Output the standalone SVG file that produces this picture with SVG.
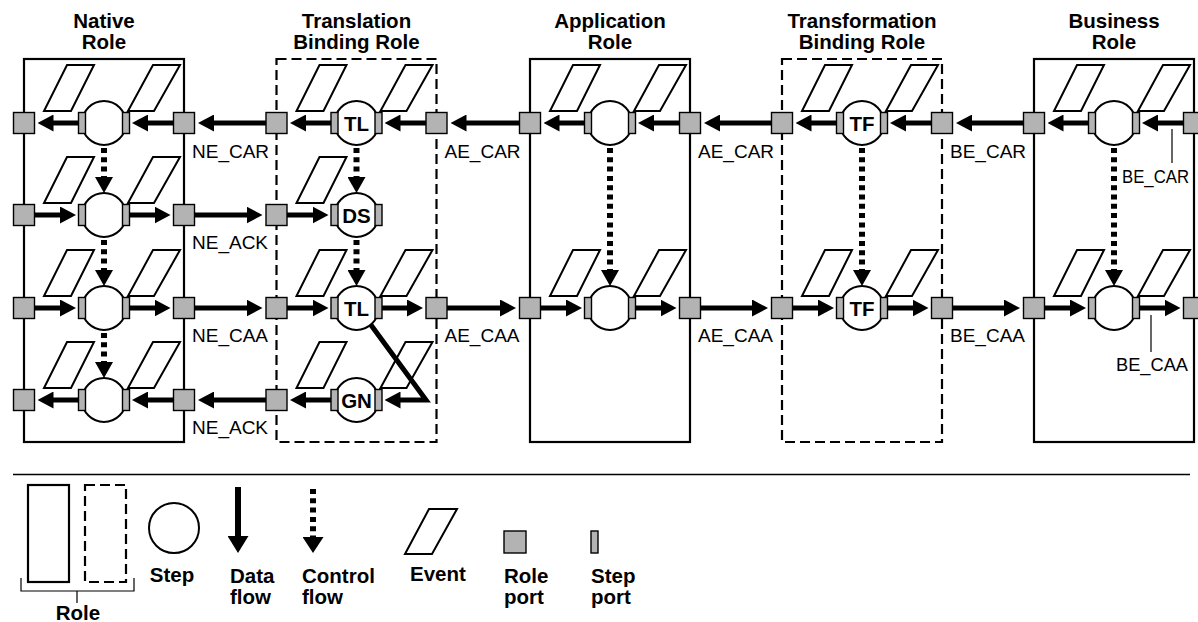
<svg xmlns="http://www.w3.org/2000/svg" width="1198" height="622" viewBox="0 0 1198 622">
<style>
.role{fill:none;stroke:#000;stroke-width:2.2}
.brole{fill:none;stroke:#000;stroke-width:2.2;stroke-dasharray:10 5}
.step{fill:#fff;stroke:#000;stroke-width:2}
.ev{fill:#fff;stroke:#000;stroke-width:2}
.rp{fill:#b3b3b3;stroke:#000;stroke-width:1.4}
.sp{fill:#b3b3b3;stroke:#000;stroke-width:1.4}
.df{fill:none;stroke:#000;stroke-width:5;marker-end:url(#ah)}
.cf{fill:none;stroke:#000;stroke-width:6;stroke-dasharray:5 4.3;marker-end:url(#ch)}
.thin{fill:none;stroke:#000;stroke-width:1.2}
text{font-family:"Liberation Sans",Arial,Helvetica,sans-serif;fill:#000}
.t{font-size:20.5px;font-weight:bold;text-anchor:middle}
.tb{font-size:20.5px;font-weight:bold}
.l{font-size:19px}
</style>
<defs>
<marker id="ah" viewBox="0 0 16 17" refX="8" refY="8.5" markerWidth="16" markerHeight="17" orient="auto" markerUnits="userSpaceOnUse"><path d="M0,0 L16,8.5 L0,17 z" fill="#000"/></marker>
<marker id="ch" viewBox="0 0 16 18" refX="0" refY="9" markerWidth="16" markerHeight="18" orient="auto" markerUnits="userSpaceOnUse"><path d="M0,0 L16,9 L0,18 z" fill="#000"/></marker>
<marker id="ahL" viewBox="0 0 17 21" refX="9" refY="10.5" markerWidth="17" markerHeight="21" orient="auto" markerUnits="userSpaceOnUse"><path d="M0,0 L17,10.5 L0,21 z" fill="#000"/></marker>
<marker id="chL" viewBox="0 0 16 21" refX="0" refY="10.5" markerWidth="16" markerHeight="21" orient="auto" markerUnits="userSpaceOnUse"><path d="M0,0 L16,10.5 L0,21 z" fill="#000"/></marker>
<polygon id="evL" class="ev" points="-60,-12 -33,-12 -10,-58 -37,-58"/>
<polygon id="evR" class="ev" points="24,-12 50,-12 76,-58 49,-58"/>
<g id="stepShape"><circle r="22" class="step"/><rect x="-25.5" y="-10.5" width="7" height="21" class="sp"/><rect x="18.5" y="-10.5" width="7" height="21" class="sp"/></g>
<rect id="rport" x="-10.5" y="-10.5" width="21" height="21" class="rp"/>
</defs>

<!-- Native Role -->
<g id="native-role">
<rect class="role" x="24" y="59" width="160" height="383"/>
<text class="t" x="104" y="28">Native</text>
<text class="t" x="104" y="49">Role</text>
<g id="native-step1"><use href="#evL" x="104" y="123"/><use href="#evR" x="104" y="123"/><use href="#stepShape" x="104" y="123"/></g>
<g id="native-step2"><use href="#evL" x="104" y="215"/><use href="#evR" x="104" y="215"/><use href="#stepShape" x="104" y="215"/></g>
<g id="native-step3"><use href="#evL" x="104" y="308"/><use href="#evR" x="104" y="308"/><use href="#stepShape" x="104" y="308"/></g>
<g id="native-step4"><use href="#evL" x="104" y="400"/><use href="#evR" x="104" y="400"/><use href="#stepShape" x="104" y="400"/></g>
<use href="#rport" x="24" y="123"/><use href="#rport" x="184" y="123"/>
<use href="#rport" x="24" y="215"/><use href="#rport" x="184" y="215"/>
<use href="#rport" x="24" y="308"/><use href="#rport" x="184" y="308"/>
<use href="#rport" x="24" y="400"/><use href="#rport" x="184" y="400"/>
</g>

<!-- Translation Binding Role -->
<g id="translation-role">
<rect class="brole" x="276.5" y="59" width="160" height="383"/>
<text class="t" x="356.5" y="28">Translation</text>
<text class="t" x="356.5" y="49">Binding Role</text>
<g id="tl-step1"><use href="#evL" x="356.5" y="123"/><use href="#evR" x="356.5" y="123"/><use href="#stepShape" x="356.5" y="123"/><text class="t" x="356.5" y="131">TL</text></g>
<g id="ds-step"><use href="#evL" x="356.5" y="215"/><use href="#stepShape" x="356.5" y="215"/><text class="t" x="356.5" y="223">DS</text></g>
<g id="tl-step2"><use href="#evL" x="356.5" y="308"/><use href="#evR" x="356.5" y="308"/><use href="#stepShape" x="356.5" y="308"/><text class="t" x="356.5" y="316">TL</text></g>
<g id="gn-step"><use href="#evL" x="356.5" y="400"/><use href="#evR" x="356.5" y="400"/><use href="#stepShape" x="356.5" y="400"/><text class="t" x="356.5" y="408">GN</text></g>
<use href="#rport" x="276.5" y="123"/><use href="#rport" x="436.5" y="123"/>
<use href="#rport" x="276.5" y="215"/>
<use href="#rport" x="276.5" y="308"/><use href="#rport" x="436.5" y="308"/>
<use href="#rport" x="276.5" y="400"/>
</g>

<!-- Application Role -->
<g id="application-role">
<rect class="role" x="530" y="59" width="160" height="383"/>
<text class="t" x="610" y="28">Application</text>
<text class="t" x="610" y="49">Role</text>
<g id="app-step1"><use href="#evL" x="610" y="123"/><use href="#evR" x="610" y="123"/><use href="#stepShape" x="610" y="123"/></g>
<g id="app-step2"><use href="#evL" x="610" y="308"/><use href="#evR" x="610" y="308"/><use href="#stepShape" x="610" y="308"/></g>
<use href="#rport" x="530" y="123"/><use href="#rport" x="690" y="123"/>
<use href="#rport" x="530" y="308"/><use href="#rport" x="690" y="308"/>
</g>

<!-- Transformation Binding Role -->
<g id="transformation-role">
<rect class="brole" x="782" y="59" width="160" height="383"/>
<text class="t" x="862" y="28">Transformation</text>
<text class="t" x="862" y="49">Binding Role</text>
<g id="tf-step1"><use href="#evL" x="862" y="123"/><use href="#evR" x="862" y="123"/><use href="#stepShape" x="862" y="123"/><text class="t" x="862" y="131">TF</text></g>
<g id="tf-step2"><use href="#evL" x="862" y="308"/><use href="#evR" x="862" y="308"/><use href="#stepShape" x="862" y="308"/><text class="t" x="862" y="316">TF</text></g>
<use href="#rport" x="782" y="123"/><use href="#rport" x="942" y="123"/>
<use href="#rport" x="782" y="308"/><use href="#rport" x="942" y="308"/>
</g>

<!-- Business Role -->
<g id="business-role">
<rect class="role" x="1034" y="59" width="160" height="383"/>
<text class="t" x="1114" y="28">Business</text>
<text class="t" x="1114" y="49">Role</text>
<g id="bus-step1"><use href="#evL" x="1114" y="123"/><use href="#evR" x="1114" y="123"/><use href="#stepShape" x="1114" y="123"/></g>
<g id="bus-step2"><use href="#evL" x="1114" y="308"/><use href="#evR" x="1114" y="308"/><use href="#stepShape" x="1114" y="308"/></g>
<use href="#rport" x="1034" y="123"/><use href="#rport" x="1194" y="123"/>
<use href="#rport" x="1034" y="308"/><use href="#rport" x="1194" y="308"/>
</g>

<!-- Connectors -->
<g id="connectors">
<path class="df" d="M173.5 123 H140"/><path class="df" d="M78.5 123 H45.5"/>
<path class="df" d="M34.5 215 H68"/><path class="df" d="M129.5 215 H162.5"/>
<path class="df" d="M34.5 308 H68"/><path class="df" d="M129.5 308 H162.5"/>
<path class="df" d="M173.5 400 H140"/><path class="df" d="M78.5 400 H45.5"/>
<path class="df" d="M266 123 H206"/>
<path class="df" d="M194.5 215 H254.5"/>
<path class="df" d="M194.5 308 H254.5"/>
<path class="df" d="M266 400 H206"/>
<path class="df" d="M426 123 H392.5"/><path class="df" d="M331 123 H298"/>
<path class="df" d="M287 215 H320.5"/>
<path class="df" d="M287 308 H320.5"/><path class="df" d="M382 308 H415"/>
<path class="df" d="M331 400 H298"/>
<path class="df" style="stroke-linejoin:miter;stroke-miterlimit:10" d="M371 325 L426 400 H392.5"/>
<path class="df" d="M519.5 123 H458.5"/>
<path class="df" d="M447 308 H508"/>
<path class="df" d="M679.5 123 H646"/><path class="df" d="M584.5 123 H551.5"/>
<path class="df" d="M540.5 308 H574"/><path class="df" d="M635.5 308 H668.5"/>
<path class="df" d="M771.5 123 H712"/>
<path class="df" d="M700.5 308 H760"/>
<path class="df" d="M931.5 123 H898"/><path class="df" d="M836.5 123 H803.5"/>
<path class="df" d="M792.5 308 H826"/><path class="df" d="M887.5 308 H920.5"/>
<path class="df" d="M1023.5 123 H964"/>
<path class="df" d="M952.5 308 H1012"/>
<path class="df" d="M1183.5 123 H1150"/><path class="df" d="M1088.5 123 H1055.5"/>
<path class="df" d="M1044.5 308 H1078"/><path class="df" d="M1139.5 308 H1172.5"/>
<path class="cf" d="M104 148 V177"/><path class="cf" d="M104 240 V270"/><path class="cf" d="M104 333 V362"/>
<path class="cf" d="M356.5 148 V177"/><path class="cf" d="M356.5 240 V270"/>
<path class="cf" d="M610 148 V270"/>
<path class="cf" d="M862 148 V270"/>
<path class="cf" d="M1114 148 V270"/>
<path class="thin" d="M1172 129 V163"/>
<path class="thin" d="M1151 315 V352"/>
</g>

<!-- Connector labels -->
<g id="labels">
<text class="l" x="192" y="158">NE_CAR</text>
<text class="l" x="192" y="249">NE_ACK</text>
<text class="l" x="192" y="342">NE_CAA</text>
<text class="l" x="192" y="434">NE_ACK</text>
<text class="l" x="444.5" y="158">AE_CAR</text>
<text class="l" x="444.5" y="342">AE_CAA</text>
<text class="l" x="698" y="158">AE_CAR</text>
<text class="l" x="698" y="342">AE_CAA</text>
<text class="l" x="950" y="158">BE_CAR</text>
<text class="l" x="950" y="342">BE_CAA</text>
<text class="l" x="1122" y="183" textLength="67" lengthAdjust="spacingAndGlyphs">BE_CAR</text>
<text class="l" x="1116" y="371" textLength="72" lengthAdjust="spacingAndGlyphs">BE_CAA</text>
</g>

<!-- Legend -->
<g id="legend">
<line x1="13" y1="474.5" x2="1190" y2="474.5" stroke="#000" stroke-width="1.5"/>
<g id="legend-role">
<rect class="role" x="28" y="485" width="41" height="97"/>
<rect class="brole" x="85" y="485" width="41" height="97"/>
<path class="thin" d="M21 578 V591 H134 V578 M77 591 V603"/>
<text class="t" x="78" y="620">Role</text>
</g>
<g id="legend-step">
<circle class="step" cx="174" cy="528" r="25"/>
<text class="t" x="172" y="582">Step</text>
</g>
<g id="legend-data">
<path d="M238 487 V545" fill="none" stroke="#000" stroke-width="6" marker-end="url(#ahL)"/>
<text class="tb" x="230" y="583">Data</text>
<text class="tb" x="230" y="604">flow</text>
</g>
<g id="legend-control">
<path d="M313 489 V537" fill="none" stroke="#000" stroke-width="6" stroke-dasharray="5 4.3" marker-end="url(#chL)"/>
<text class="tb" x="302" y="583">Control</text>
<text class="tb" x="302" y="604">flow</text>
</g>
<g id="legend-event">
<polygon class="ev" points="405,554 432,554 457,509 429,509"/>
<text class="tb" x="410" y="581">Event</text>
</g>
<g id="legend-roleport">
<rect class="rp" x="504" y="531" width="22" height="22"/>
<text class="tb" x="504" y="583">Role</text>
<text class="tb" x="504" y="604">port</text>
</g>
<g id="legend-stepport">
<rect class="sp" x="591" y="531" width="7" height="22"/>
<text class="tb" x="591" y="583">Step</text>
<text class="tb" x="591" y="604">port</text>
</g>
</g>
</svg>
